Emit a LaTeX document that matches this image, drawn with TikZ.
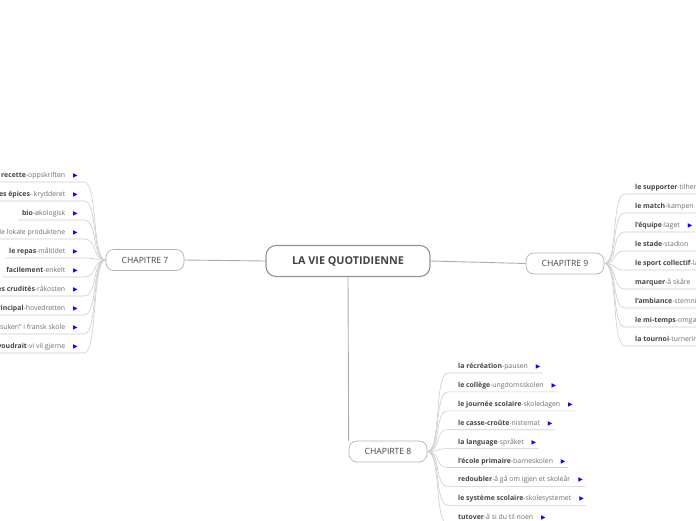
\documentclass[tikz,border=0pt]{standalone}
\usepackage{fontspec}
\setmainfont{Open Sans}
\newfontfamily\symfont{DejaVu Sans}
\definecolor{textdark}{HTML}{444444}
\definecolor{textlight}{HTML}{6E6E6E}
\definecolor{twiggray}{HTML}{CCCCCC}
\definecolor{markblue}{HTML}{0A0AF0}
\newcommand{\leaflabel}[2]{{\bfseries\color{textdark}#1}-#2}
\newcommand{\notemark}{\hspace{8pt}{\symfont\color{markblue}\fontsize{6}{6}\selectfont ▶}}
\begin{document}
\begin{tikzpicture}[x=1pt, y=-1pt,
    topic/.style={draw=gray!85, rounded corners=10pt, line width=1.1pt, minimum width=164pt, minimum height=31pt, font=\fontsize{10.8}{12}\selectfont\bfseries, text=textdark},
    chapter/.style={draw=gray!60, rounded corners=8pt, line width=0.7pt, minimum width=78pt, minimum height=21pt, font=\fontsize{8.6}{10}\selectfont, text=textdark},
    leaf/.style={inner sep=0pt, font=\fontsize{6.9}{8}\selectfont, text=textlight},
    twig/.style={draw=twiggray, line width=0.6pt},
    branch/.style={draw=gray!65, line width=0.9pt}]
    \useasboundingbox (0,0) rectangle (696,520);

    % Nodes
    \node[topic] (Vie) at (348,261) {LA VIE QUOTIDIENNE};
    \node[chapter] (Ch7) at (145,260) {CHAPITRE 7};
    \node[chapter] (Ch9) at (565,263.5) {CHAPITRE 9};
    \node[chapter] (Ch8) at (388,451.5) {CHAPIRTE 8};

    % Main branches
    \draw[branch] (Vie.west) -- (Ch7.east);
    \draw[branch] (Vie.east) -- (Ch9.west);
    \draw[branch] (Vie.south) -- (Ch8.north west);

    % Chapitre 7
    \foreach \b/\n [count=\i] in {la recette/oppskriften, les épices/\ krydderet, bio/økologisk,
        les produits locaux/de lokale produktene, le repas/måltidet, facilement/enkelt,
        les crudités/råkosten, le plat principal/hovedretten,
        la semaine du goût/"smaksuken" i fransk skole, on voudrait/vi vil gjerne} {
        \node[leaf, anchor=base east] (L7-\i) at (78, {177.5+19*(\i-1)}) {\leaflabel{\b}{\n}\notemark};
        \draw[twig] ([xshift=-4pt,yshift=-4.5pt]L7-\i.base west) -- ([xshift=6pt,yshift=-4.5pt]L7-\i.base east)
            .. controls +(14,0) and +(-14,0) .. (Ch7.west);
    }

    % Chapitre 9
    \foreach \b/\n [count=\i] in {le supporter/tilhenger, le match/kampen, l'équipe/laget,
        le stade/stadion, le sport collectif/lagsport, marquer/å skåre, l'ambiance/stemning,
        le mi-temps/omgang, la tournoi/turnering} {
        \node[leaf, anchor=base west] (L9-\i) at (635, {189.5+19*(\i-1)}) {\leaflabel{\b}{\n}\notemark};
        \draw[twig] (Ch9.east) .. controls +(14,0) and +(-14,0) .. ([xshift=-10pt,yshift=-4.5pt]L9-\i.base west)
            -- ([xshift=2pt,yshift=-4.5pt]L9-\i.base east);
    }

    % Chapitre 8
    \foreach \b/\n [count=\i] in {la récréation/pausen, le collège/ungdomsskolen,
        le journée scolaire/skoledagen, le casse-croûte/nistemat, la language/språket,
        l'école primaire/barneskolen, redoubler/å gå om igjen et skoleår,
        le système scolaire/skolesystemet, tutover/å si du til noen} {
        \node[leaf, anchor=base west] (L8-\i) at (458, {368.5+18.9*(\i-1)}) {\leaflabel{\b}{\n}\notemark};
        \draw[twig] (Ch8.east) .. controls +(14,0) and +(-14,0) .. ([xshift=-10pt,yshift=-4.5pt]L8-\i.base west)
            -- ([xshift=2pt,yshift=-4.5pt]L8-\i.base east);
    }
\end{tikzpicture}
\end{document}
